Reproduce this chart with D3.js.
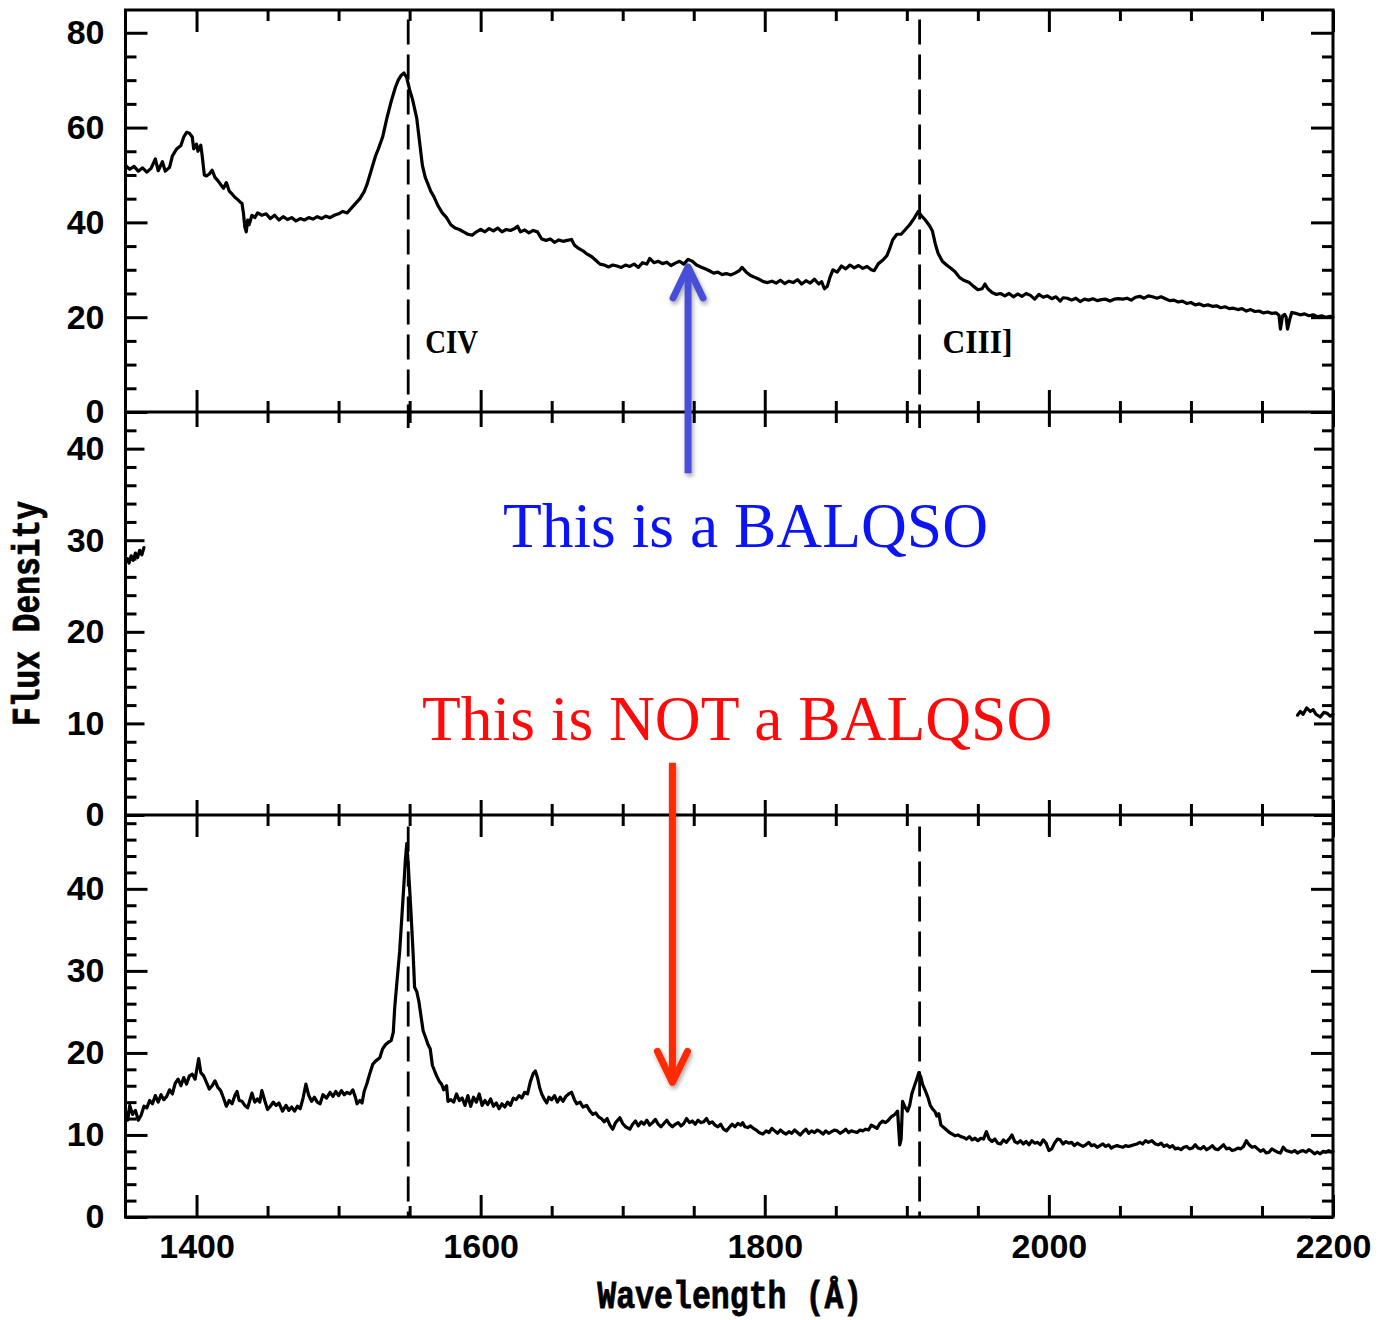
<!DOCTYPE html>
<html>
<head>
<meta charset="utf-8">
<script src="https://cdn.jsdelivr.net/npm/d3@7"></script>
<style>
  body { margin: 0; background: #fff; }
  svg { display: block; }
</style>
</head>
<body>
<svg id="chart" width="1381" height="1320"></svg>
<script>
// ---- Spectra: [rest wavelength (Å), flux density] ----
const balSpectrum = [
  [1350,52.0],[1353,51.2],[1356,51.8],[1359,50.8],[1362,51.5],[1365,50.6],[1368,51.4],[1371,53.4],[1373,50.9],[1376,52.8],
  [1378,50.8],[1381,51.6],[1383,54.0],[1386,55.5],[1389,56.2],[1391,58.0],[1393,59.0],[1395,58.8],[1397,58.0],[1398,55.5],
  [1400,56.5],[1401,55.0],[1403,56.3],[1404,54.0],[1405.5,50.0],[1407,49.8],[1409,50.2],[1411,51.0],[1413,49.5],[1415,48.8],
  [1417,48.0],[1419,47.2],[1421,48.4],[1423,46.6],[1425,46.0],[1427,45.3],[1429,44.8],[1431,44.2],[1432,44.0],[1433,42.0],
  [1434,39.0],[1435,38.0],[1436,40.5],[1437,39.5],[1439,41.5],[1441,41.0],[1443,42.0],[1446,41.5],[1449,41.8],[1452,40.8],
  [1455,41.5],[1458,40.5],[1461,41.2],[1464,40.6],[1467,41.0],[1470,40.3],[1473,40.8],[1476,40.5],[1479,41.0],[1482,40.7],
  [1485,41.2],[1488,40.8],[1491,41.3],[1494,41.0],[1497,41.5],[1500,41.8],[1503,42.3],[1506,42.0],[1509,43.0],[1512,44.0],
  [1515,45.0],[1518,46.5],[1520,48.0],[1523,51.0],[1526,54.0],[1528,55.5],[1531,58.0],[1534,62.0],[1537,65.5],[1540,68.5],
  [1542,70.0],[1544,71.0],[1546,71.5],[1548,70.5],[1550,68.0],[1552,66.0],[1555,62.0],[1557,57.0],[1559,52.0],[1561,49.5],
  [1563,48.0],[1565,46.5],[1567,45.5],[1570,43.5],[1573,42.0],[1576,41.0],[1579,39.5],[1582,38.8],[1585,38.5],[1588,38.0],
  [1591,37.5],[1594,37.3],[1597,38.0],[1600,38.5],[1603,38.0],[1606,38.7],[1609,38.2],[1612,38.8],[1615,38.0],[1618,38.5],
  [1621,38.3],[1624,38.7],[1626,39.2],[1628,38.0],[1631,38.4],[1634,37.8],[1637,38.3],[1640,38.0],[1643,36.5],[1646,36.2],
  [1649,36.5],[1652,35.8],[1655,36.3],[1658,36.0],[1661,36.2],[1664,36.4],[1666,35.2],[1669,34.5],[1672,34.0],[1675,33.3],
  [1678,32.8],[1681,32.0],[1684,31.2],[1687,31.0],[1690,30.6],[1693,31.0],[1696,30.8],[1699,30.5],[1702,31.0],[1705,30.7],
  [1708,31.2],[1711,30.5],[1714,31.5],[1717,31.2],[1719,32.4],[1722,31.5],[1725,31.8],[1728,31.3],[1731,31.6],[1734,30.9],
  [1737,31.4],[1740,31.8],[1743,31.2],[1746,32.2],[1749,31.8],[1752,31.0],[1755,30.6],[1758,30.2],[1761,29.8],[1764,29.3],
  [1767,29.5],[1770,29.0],[1773,29.2],[1776,28.9],[1779,29.3],[1782,29.8],[1784,30.5],[1787,29.5],[1790,28.8],[1793,28.4],
  [1796,28.0],[1799,27.5],[1802,27.3],[1805,27.6],[1808,27.2],[1811,27.8],[1814,27.1],[1817,27.6],[1820,27.3],[1823,27.9],
  [1826,27.0],[1829,27.7],[1832,27.2],[1835,28.0],[1838,27.0],[1840,27.5],[1842,26.0],[1844,26.5],[1846,28.5],[1848,30.0],
  [1851,29.5],[1854,30.8],[1857,30.2],[1860,31.0],[1863,30.4],[1866,30.9],[1869,30.3],[1872,30.7],[1875,30.0],[1877,29.8],
  [1880,31.3],[1883,32.0],[1886,33.0],[1888,34.5],[1890,36.3],[1893,37.5],[1896,37.5],[1899,38.5],[1902,39.5],[1905,40.8],
  [1908,42.3],[1910,41.5],[1913,40.5],[1916,39.3],[1918,38.2],[1920,35.5],[1922,33.5],[1925,31.8],[1928,31.0],[1931,30.3],
  [1934,29.6],[1937,28.4],[1940,27.8],[1944,27.3],[1947,26.5],[1950,25.8],[1953,26.0],[1955,27.0],[1957,26.0],[1960,25.2],
  [1963,24.8],[1966,25.0],[1969,24.5],[1972,25.0],[1975,24.3],[1978,24.9],[1981,24.4],[1984,25.0],[1987,24.6],[1990,23.8],
  [1993,24.8],[1996,24.2],[1999,24.5],[2002,23.9],[2005,24.3],[2008,23.4],[2010,24.1],[2013,24.0],[2016,23.6],[2019,24.0],
  [2022,23.3],[2025,23.8],[2028,23.6],[2031,23.9],[2034,23.5],[2037,23.7],[2040,23.8],[2043,23.4],[2046,23.8],[2049,23.9],
  [2052,23.8],[2055,24.0],[2058,23.6],[2061,24.2],[2064,24.4],[2067,24.0],[2070,24.5],[2073,24.3],[2076,24.0],[2079,24.3],
  [2082,23.9],[2085,23.5],[2088,23.6],[2091,23.2],[2094,23.4],[2097,22.9],[2100,23.1],[2103,22.6],[2106,22.8],[2109,22.4],
  [2112,22.6],[2115,22.3],[2118,22.4],[2121,22.0],[2124,22.2],[2127,21.8],[2130,21.9],[2133,21.6],[2136,21.8],[2139,21.3],
  [2142,21.6],[2145,21.2],[2148,21.3],[2151,20.9],[2154,21.1],[2157,20.8],[2160,20.9],[2162,20.4],[2163,17.5],[2164.5,20.3],
  [2166,20.6],[2167,20.0],[2168,17.5],[2169.5,19.5],[2171,21.0],[2174,20.8],[2177,20.5],[2180,20.7],[2183,20.3],[2186,20.5],
  [2189,20.1],[2192,20.3],[2195,20.0],[2198,20.2],[2200,20.0]
];

// middle spectrum: only its two ends are shown
const midSpectrumLeft = [
  [1351,28.0],[1352.5,27.5],[1354,28.3],[1355.5,27.8],[1357,28.6],[1358.5,28.1],[1360,28.9],[1361.5,28.4],[1363,29.2]
];
const midSpectrumRight = [
  [2175,10.9],[2177,11.3],[2179,11.0],[2181.5,11.7],[2184,11.3],[2186,11.5],[2188,11.0],[2191,10.7],[2193.5,11.2],
  [2196,11.1],[2198,10.8],[2200,11.0]
];

const nonBalSpectrum = [
  [1350,12.9],[1351.5,11.8],[1353,13.6],[1355,12.5],[1357,13.0],[1359,11.8],[1361,12.4],[1363,13.5],[1365,13.3],[1367,14.2],
  [1369,13.8],[1371,14.8],[1373,14.0],[1375,14.9],[1377,14.3],[1379,14.7],[1381,15.5],[1383,15.0],[1385,16.3],[1387,16.8],
  [1389,16.0],[1391,17.0],[1393,16.2],[1395,17.2],[1397,17.4],[1399,16.8],[1401.5,19.3],[1403,17.6],[1405,17.2],[1407,16.4],
  [1409,15.6],[1411,16.0],[1413,16.6],[1415,15.8],[1417,15.4],[1419,14.5],[1421,13.5],[1423,14.2],[1425,13.8],[1427,14.8],
  [1428.5,15.3],[1430,14.2],[1432,14.1],[1434,13.6],[1436,13.3],[1437.5,14.2],[1439,15.1],[1441,14.0],[1443,14.4],[1444.5,14.0],
  [1446,15.4],[1448,14.2],[1450,13.1],[1452,13.5],[1454,14.0],[1456,13.6],[1458,13.9],[1460.5,12.9],[1463,13.6],[1465,13.0],
  [1467,13.4],[1469,12.9],[1471,13.5],[1473,13.2],[1475,14.5],[1477,16.2],[1479,14.8],[1481,14.1],[1483,14.6],[1485,14.0],
  [1487,13.8],[1489,14.9],[1491.5,14.5],[1494,15.2],[1496,14.7],[1498,15.3],[1500,14.8],[1502,15.4],[1504,14.9],[1506,15.2],
  [1508,15.0],[1510,15.5],[1512,14.5],[1513,13.8],[1515,14.2],[1516.5,13.9],[1518,15.3],[1520,16.3],[1522,17.5],[1524,18.6],
  [1526,19.0],[1529,19.4],[1531,20.5],[1533,21.0],[1535,21.3],[1537,21.5],[1538.5,22.5],[1539.5,25.5],[1541,28.5],[1543,32.4],
  [1544.5,36.5],[1546,40.6],[1547,43.5],[1548,45.5],[1549,43.0],[1550,40.0],[1551,37.0],[1552.5,32.0],[1553.5,28.0],[1555,27.5],
  [1556.5,26.3],[1558,24.5],[1559.5,22.7],[1561,22.0],[1563,21.0],[1564.5,20.5],[1566,18.5],[1567.6,17.8],[1569,17.2],[1571,16.5],
  [1572.5,16.2],[1574,15.5],[1576,16.0],[1577,14.1],[1579,14.3],[1581,14.0],[1583,15.0],[1585,14.2],[1587,14.5],[1589,13.6],
  [1591,14.8],[1593,13.5],[1595,14.6],[1597,14.0],[1599,15.0],[1601,13.6],[1603,14.2],[1605,13.7],[1607,14.4],[1609,13.5],
  [1611,13.9],[1613,13.2],[1615,13.8],[1617,13.4],[1619,14.0],[1621,13.6],[1623,14.5],[1625,14.3],[1627,14.8],[1629,14.5],
  [1631,15.2],[1633,15.0],[1635,16.5],[1637,17.5],[1638.5,17.8],[1640,17.0],[1641.5,15.8],[1643,15.0],[1645,14.3],[1646.5,13.9],
  [1648,14.6],[1650,14.3],[1652,14.8],[1654,14.0],[1656,14.6],[1658,14.1],[1660,14.7],[1662,15.0],[1664,15.2],[1666,14.3],
  [1667.6,13.8],[1670,14.0],[1672,13.4],[1674.6,13.6],[1677,12.9],[1679,12.5],[1681,12.7],[1683,12.2],[1685,12.0],[1687,11.6],
  [1689,12.0],[1691,11.2],[1693,10.7],[1695,11.5],[1698,12.1],[1700,11.4],[1702,11.0],[1705,10.7],[1707,11.3],[1709,11.7],
  [1711,11.1],[1713,11.6],[1715,11.3],[1717,11.8],[1719,11.2],[1721,11.5],[1723,11.9],[1725,11.3],[1727,11.0],[1729,11.4],
  [1731,11.8],[1733,11.3],[1735,11.0],[1737,11.3],[1739,11.5],[1741,11.1],[1743,11.4],[1745,12.0],[1747,11.5],[1749,11.7],
  [1751,11.3],[1753,11.8],[1755,11.5],[1757,11.6],[1759,12.0],[1761,11.4],[1763,11.6],[1765,11.2],[1767,11.0],[1769,11.3],
  [1771,10.7],[1773,10.5],[1775,10.9],[1777,11.3],[1779,11.0],[1781,11.4],[1783,11.2],[1784.5,11.5],[1786,11.0],[1788,10.9],
  [1790,11.1],[1792,10.8],[1794,10.6],[1796,10.3],[1798.6,10.1],[1801,10.5],[1803,10.3],[1805,10.8],[1807,10.5],[1809,10.2],
  [1811,10.6],[1813,10.3],[1815,10.1],[1817,10.4],[1819,10.2],[1821,10.6],[1823,10.3],[1825,10.0],[1827,10.4],[1829,10.7],
  [1831,10.2],[1833,10.5],[1835,10.3],[1837,10.6],[1839,10.4],[1841,10.1],[1843,10.5],[1845,10.2],[1847,10.4],[1849,10.6],
  [1851,10.5],[1853,10.2],[1855,10.4],[1857,10.7],[1859,10.3],[1861,10.5],[1863,10.4],[1865,10.3],[1867,10.6],[1869,10.5],
  [1871,10.7],[1873,10.6],[1875,11.2],[1877,11.0],[1879,10.8],[1881,11.4],[1883,11.7],[1885,11.5],[1887,11.8],[1889,12.2],
  [1891.5,12.5],[1893.5,12.9],[1895,8.8],[1896,9.5],[1897,14.1],[1899,13.3],[1900.5,12.9],[1902,13.6],[1903.5,15.0],[1905,15.8],
  [1907,16.8],[1908.5,17.6],[1910,17.0],[1911,16.2],[1913,15.4],[1915,14.5],[1916.5,13.6],[1918,13.2],[1920,12.8],[1921,12.3],
  [1922.5,12.6],[1924,11.2],[1926,10.9],[1928,10.6],[1930,10.3],[1932,10.1],[1934,9.9],[1936,10.0],[1938,9.8],[1940,9.7],
  [1942,9.5],[1944,9.8],[1946,9.4],[1948,9.6],[1950,9.3],[1952,9.6],[1954,9.5],[1956,10.4],[1958,9.5],[1960,9.2],
  [1962,9.5],[1964,9.0],[1966,8.9],[1968,9.4],[1970,9.1],[1972,9.5],[1974,10.0],[1976,9.2],[1978,9.0],[1980,9.3],
  [1982,8.9],[1984,9.2],[1986,8.8],[1988,9.3],[1990,9.0],[1992,9.1],[1994,8.8],[1996,9.4],[1998,9.0],[2000,8.1],
  [2002,8.3],[2004,9.0],[2006,9.5],[2008,9.4],[2010,8.9],[2012,9.2],[2014,9.0],[2016,9.1],[2018,8.7],[2020,9.0],
  [2022,8.8],[2024,8.6],[2026,8.8],[2028,9.1],[2030,8.7],[2032,8.8],[2034,8.5],[2036,8.7],[2038,8.9],[2040,8.6],
  [2042,8.8],[2044,8.4],[2046,8.6],[2048,8.7],[2050,8.6],[2052,8.5],[2054,8.7],[2056,8.6],[2058,8.7],[2060,8.8],
  [2062,8.9],[2064,9.1],[2066,8.9],[2068,9.3],[2070,9.1],[2072.5,9.3],[2075,8.9],[2077,8.8],[2079,9.0],[2081,8.6],
  [2083,8.8],[2085,8.5],[2087,8.7],[2089,8.3],[2091,8.4],[2093,8.2],[2095,8.5],[2097,8.6],[2099,8.3],[2101,8.4],
  [2103,8.8],[2105,8.4],[2107,8.3],[2109,8.6],[2111,8.2],[2113,8.4],[2115,8.7],[2117,8.3],[2119,8.2],[2121,8.5],
  [2123,8.8],[2125,8.3],[2127,8.4],[2129,8.1],[2131,8.2],[2133,8.4],[2135,8.3],[2137,8.6],[2139,9.3],[2141,8.8],
  [2143,8.5],[2145,8.6],[2147,8.3],[2149,8.0],[2151,8.2],[2153,7.8],[2155,7.9],[2157,8.3],[2159,8.1],[2161,7.9],
  [2163,7.8],[2165,8.5],[2167,8.1],[2169,8.0],[2171,7.9],[2173,8.1],[2175,7.8],[2177,8.0],[2179,8.1],[2181,7.9],
  [2183,8.2],[2185,8.0],[2187,7.7],[2189,7.9],[2191,7.7],[2193,8.0],[2195,7.9],[2197,8.1],[2199,7.9],[2200,8.0]
];

// ---- Axis ticks ----
const xDomain = [1350, 2200];
const xTickLabels = [1400, 1600, 1800, 2000, 2200];
const yTicksTop = [0, 20, 40, 60, 80];
const yTicksMid = [0, 10, 20, 30, 40];
const yTicksBot = [0, 10, 20, 30, 40];

// ---- Emission lines marked with dashes ----
const lineNames = ["CIV", "CIII]"];
const lineWaves = [1549, 1909];

// ---- Annotations ----
const noteTexts = ["This is a BALQSO", "This is NOT a BALQSO"];
const noteColors = ["#0a14f5", "#ff0a0a"];

// ---- Layout ----
const svg = d3.select("#chart");
const X0 = 125.5, X1 = 1333;
const x = d3.scaleLinear().domain(xDomain).range([X0, X1]);

const panels = [
  { top: 10,  bottom: 412,  yMax: 84.8, major: yTicksTop, minorStep: 5, xMaj: 22, xMin: 11, yMaj: 22, yMin: 11 },
  { top: 412, bottom: 815,  yMax: 44.0, major: yTicksMid, minorStep: 2, xMaj: 15, xMin: 11, yMaj: 19, yMin: 11 },
  { top: 815, bottom: 1217, yMax: 49.0, major: yTicksBot, minorStep: 2, xMaj: 22, xMin: 11, yMaj: 22, yMin: 11 }
];
panels.forEach(p => {
  p.y = d3.scaleLinear().domain([0, p.yMax]).range([p.bottom, p.top]);
});

const defs = svg.append("defs");
defs.append("filter").attr("id", "arrowShadow")
  .attr("x", "-50%").attr("y", "-20%").attr("width", "200%").attr("height", "140%")
  .append("feDropShadow")
  .attr("dx", 1.5).attr("dy", 3).attr("stdDeviation", 2)
  .attr("flood-color", "#000").attr("flood-opacity", 0.35);

const tickFont = "'Liberation Sans', Arial, sans-serif";
const xMinorTicks = d3.range(xDomain[0], xDomain[1] + 1, 50).filter(v => !xTickLabels.includes(v) && v > xDomain[0]);

function styleAxis(g) {
  g.select(".domain").remove();
  g.selectAll(".tick line").attr("stroke", "#000").attr("stroke-width", 3);
  g.selectAll(".tick text")
    .attr("font-family", tickFont).attr("font-weight", "bold")
    .attr("font-size", 34).attr("fill", "#000");
}

panels.forEach((p, i) => {
  const g = svg.append("g");
  const minor = d3.range(0, p.yMax + 0.001, p.minorStep).filter(v => !p.major.includes(v));

  // left: major with labels, minor without
  g.append("g").attr("transform", `translate(${X0},0)`)
    .call(d3.axisLeft(p.y).tickValues(p.major).tickSizeInner(-p.yMaj).tickSizeOuter(0)
      .tickPadding(21).tickFormat(d3.format("d")))
    .call(styleAxis);
  g.append("g").attr("transform", `translate(${X0},0)`)
    .call(d3.axisLeft(p.y).tickValues(minor).tickSizeInner(-p.yMin).tickSizeOuter(0).tickFormat(""))
    .call(styleAxis);
  // right: mirrored ticks
  g.append("g").attr("transform", `translate(${X1},0)`)
    .call(d3.axisRight(p.y).tickValues(p.major).tickSizeInner(-p.yMaj).tickSizeOuter(0).tickFormat(""))
    .call(styleAxis);
  g.append("g").attr("transform", `translate(${X1},0)`)
    .call(d3.axisRight(p.y).tickValues(minor).tickSizeInner(-p.yMin).tickSizeOuter(0).tickFormat(""))
    .call(styleAxis);

  // top edge
  g.append("g").attr("transform", `translate(0,${p.top})`)
    .call(d3.axisTop(x).tickValues(xTickLabels).tickSizeInner(-p.xMaj).tickSizeOuter(0).tickFormat(""))
    .call(styleAxis);
  g.append("g").attr("transform", `translate(0,${p.top})`)
    .call(d3.axisTop(x).tickValues(xMinorTicks).tickSizeInner(-p.xMin).tickSizeOuter(0).tickFormat(""))
    .call(styleAxis);
  // bottom edge (labels only on the lowest panel)
  g.append("g").attr("transform", `translate(0,${p.bottom})`)
    .call(d3.axisBottom(x).tickValues(xTickLabels).tickSizeInner(-p.xMaj).tickSizeOuter(0)
      .tickPadding(17).tickFormat(i === panels.length - 1 ? d3.format("d") : ""))
    .call(styleAxis);
  g.append("g").attr("transform", `translate(0,${p.bottom})`)
    .call(d3.axisBottom(x).tickValues(xMinorTicks).tickSizeInner(-p.xMin).tickSizeOuter(0).tickFormat(""))
    .call(styleAxis);
});

// ---- Dashed emission-line markers ----
const topP = panels[0], botP = panels[2];
lineWaves.forEach(w => {
  svg.append("line")
    .attr("x1", x(w)).attr("x2", x(w))
    .attr("y1", topP.y(82.8)).attr("y2", topP.y(-3.4))
    .attr("stroke", "#000").attr("stroke-width", 2.8).attr("stroke-dasharray", "25,10");
  svg.append("line")
    .attr("x1", x(w)).attr("x2", x(w))
    .attr("y1", botP.y(47.6)).attr("y2", botP.y(0))
    .attr("stroke", "#000").attr("stroke-width", 2.8).attr("stroke-dasharray", "25,10");
});

// ---- Spectra ----
function drawSpectrum(data, p) {
  const line = d3.line().x(d => x(d[0])).y(d => p.y(d[1]));
  svg.append("path").datum(data)
    .attr("d", line).attr("fill", "none")
    .attr("stroke", "#000").attr("stroke-width", 3.2)
    .attr("stroke-linejoin", "round").attr("stroke-linecap", "round");
}
drawSpectrum(balSpectrum, panels[0]);
drawSpectrum(midSpectrumLeft, panels[1]);
drawSpectrum(midSpectrumRight, panels[1]);
drawSpectrum(nonBalSpectrum, panels[2]);

// ---- Frame ----
const frame = svg.append("g").attr("stroke", "#000").attr("stroke-width", 3).attr("fill", "none");
frame.append("rect").attr("x", X0).attr("y", panels[0].top)
  .attr("width", X1 - X0).attr("height", panels[2].bottom - panels[0].top);
panels.slice(1).forEach(p => {
  frame.append("line").attr("x1", X0).attr("x2", X1).attr("y1", p.top).attr("y2", p.top);
});

// ---- Line labels ----
const lineLabelLen = [53, 70];
const lineLabelGap = [17, 23];
lineNames.forEach((name, i) => {
  svg.append("text")
    .attr("x", x(lineWaves[i]) + lineLabelGap[i]).attr("y", topP.y(12.4))
    .attr("font-family", "'Liberation Serif', 'Times New Roman', serif")
    .attr("font-weight", "bold").attr("font-size", 34)
    .attr("textLength", lineLabelLen[i]).attr("lengthAdjust", "spacingAndGlyphs")
    .text(name);
});

// ---- Arrows ----
const arrowWaves = [1746, 1735];
const arrowColors = ["#4650d8", "#ff2a00"];
function arrow(wave, yFrom, yTo, color) {
  const dir = yTo < yFrom ? 1 : -1;      // 1 = pointing up
  const g = svg.append("g").attr("filter", "url(#arrowShadow)")
    .attr("stroke", color).attr("stroke-width", 7).attr("fill", "none")
    .attr("stroke-linecap", "round").attr("stroke-linejoin", "round");
  const ax = x(wave);
  g.append("line").attr("x1", ax).attr("x2", ax).attr("y1", yFrom).attr("y2", yTo + dir * 3)
    .attr("stroke-linecap", "butt");
  g.append("path").attr("d", d3.line()([[ax - 15, yTo + dir * 31], [ax, yTo], [ax + 15, yTo + dir * 31]]));
}
arrow(arrowWaves[0], panels[1].y(37.3), panels[0].y(30.6), arrowColors[0]);
arrow(arrowWaves[1], panels[1].y(5.7), panels[2].y(16.4), arrowColors[1]);

// ---- Annotation text ----
const noteWaves = [1615.7, 1558.7];
const noteLevels = [29.3, 8.2];
noteTexts.forEach((t, i) => {
  svg.append("text")
    .attr("x", x(noteWaves[i])).attr("y", panels[1].y(noteLevels[i]))
    .attr("font-family", "'Liberation Serif', 'Times New Roman', serif")
    .attr("font-size", 63.5).attr("fill", noteColors[i])
    .text(t);
});

// ---- Axis titles ----
const titleFont = "'Liberation Mono', 'Courier New', monospace";
svg.append("text")
  .attr("x", (X0 + X1) / 2 + 0.5).attr("y", 1308)
  .attr("text-anchor", "middle")
  .attr("font-family", titleFont).attr("font-weight", "bold").attr("font-size", 39)
  .attr("stroke", "#000").attr("stroke-width", 0.8)
  .attr("textLength", 265).attr("lengthAdjust", "spacingAndGlyphs")
  .text("Wavelength (Å)");
svg.append("text")
  .attr("transform", `translate(39,${(panels[0].top + panels[2].bottom) / 2}) rotate(-90)`)
  .attr("text-anchor", "middle")
  .attr("font-family", titleFont).attr("font-weight", "bold").attr("font-size", 39)
  .attr("stroke", "#000").attr("stroke-width", 0.8)
  .attr("textLength", 225).attr("lengthAdjust", "spacingAndGlyphs")
  .text("Flux Density");
</script>
</body>
</html>
